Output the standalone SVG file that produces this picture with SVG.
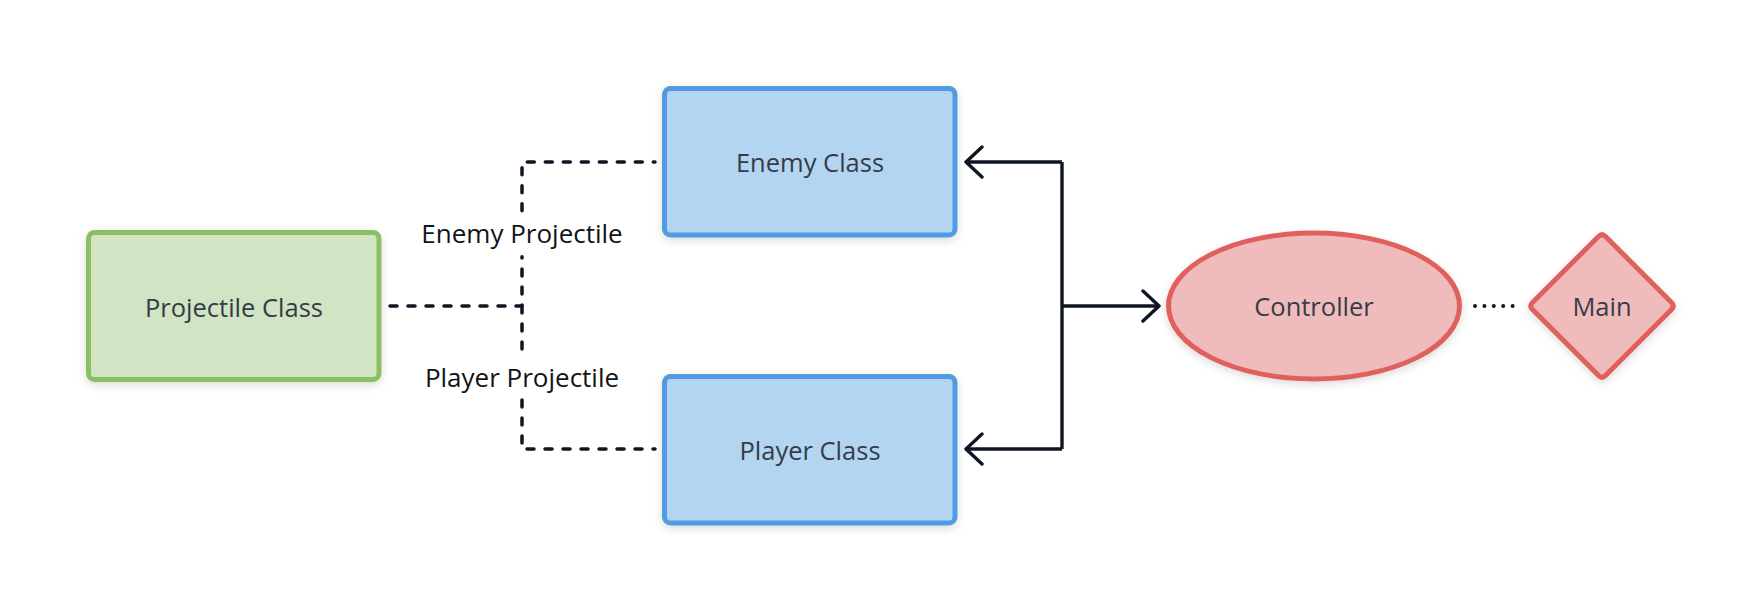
<svg xmlns="http://www.w3.org/2000/svg" width="1764" height="612" viewBox="0 0 1764 612">
  <defs>
    <filter id="shadow" x="-20%" y="-20%" width="140%" height="150%">
      <feDropShadow dx="0" dy="3" stdDeviation="4" flood-color="#000000" flood-opacity="0.14"/>
    </filter>
    <marker id="chev" viewBox="0 0 20 34" refX="18" refY="17" markerWidth="20" markerHeight="34" markerUnits="userSpaceOnUse" orient="auto">
      <path d="M2,2 L18,17 L2,32" fill="none" stroke="#0f1623" stroke-width="3.4" stroke-linecap="round" stroke-linejoin="round"/>
    </marker>
    <style>
      .ntext { font-family: "Open Sans", "Noto Sans", sans-serif; font-size: 25.5px; fill: #363c47; text-anchor: middle; }
      .ltext { font-family: "Open Sans", "Noto Sans", sans-serif; font-size: 26px; fill: #111418; text-anchor: middle; }
      .green { fill: #d1e4c3; stroke: #8cbf63; stroke-width: 5; }
      .blue { fill: #b4d5f2; stroke: #519ce0; stroke-width: 5; }
      .red { fill: #efbcbb; stroke: #df615b; stroke-width: 5; }
      .dash { fill: none; stroke: #0f1623; stroke-width: 3.5; stroke-dasharray: 7 11; stroke-linecap: round; stroke-linejoin: round; }
      .dot { fill: none; stroke: #0f1623; stroke-width: 4; stroke-dasharray: 0 9.4; stroke-linecap: round; }
      .solid { fill: none; stroke: #0f1623; stroke-width: 3.4; stroke-linejoin: round; }
    </style>
  </defs>

  <g id="connectors">
    <path class="dash" d="M390,306 H522 V256.7 M522,210.7 V162 H655"/>
    <path class="dash" d="M522,306 V355 M522,400 V449 H655"/>
    <path class="solid" d="M1062,162 V449"/>
    <path class="solid" d="M1062,162 H966" marker-end="url(#chev)"/>
    <path class="solid" d="M1062,449 H966" marker-end="url(#chev)"/>
    <path class="solid" d="M1062,306 H1159" marker-end="url(#chev)"/>
    <path class="dot" d="M1475,306 H1513"/>
    <text class="ltext" x="522" y="243.3">Enemy Projectile</text>
    <text class="ltext" x="522" y="386.7">Player Projectile</text>
  </g>

  <g id="projectile-class">
    <rect class="green" x="88.5" y="232.5" width="290.5" height="147" rx="6" filter="url(#shadow)"/>
    <text class="ntext" x="234" y="316.5">Projectile Class</text>
  </g>

  <g id="enemy-class">
    <rect class="blue" x="664.5" y="88.5" width="290.5" height="146.5" rx="6" filter="url(#shadow)"/>
    <text class="ntext" x="810" y="171.5">Enemy Class</text>
  </g>

  <g id="player-class">
    <rect class="blue" x="664.5" y="376.5" width="290.5" height="146.5" rx="6" filter="url(#shadow)"/>
    <text class="ntext" x="810" y="460">Player Class</text>
  </g>

  <g id="controller">
    <ellipse class="red" cx="1314" cy="306" rx="145.5" ry="73" filter="url(#shadow)"/>
    <text class="ntext" x="1314" y="316">Controller</text>
  </g>

  <g id="main">
    <path class="red" d="M1598.5,236.5 Q1602,233 1605.5,236.5 L1671.5,302.5 Q1675,306 1671.5,309.5 L1605.5,375.5 Q1602,379 1598.5,375.5 L1532.5,309.5 Q1529,306 1532.5,302.5 Z" stroke-linejoin="round" filter="url(#shadow)"/>
    <text class="ntext" x="1602" y="316">Main</text>
  </g>
</svg>
